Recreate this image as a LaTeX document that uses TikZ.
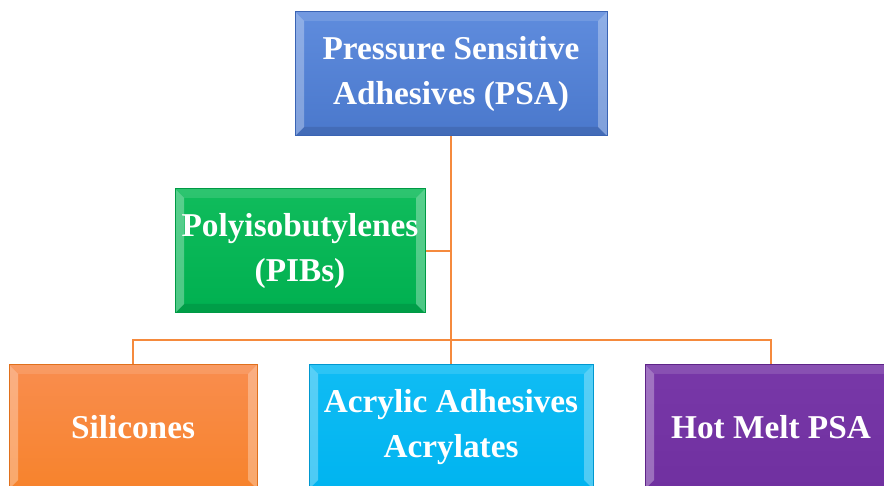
\documentclass[tikz,border=0pt]{standalone}
\usepackage{fontspec}
\setmainfont{Liberation Serif}
\usetikzlibrary{calc}
\definecolor{cblue}{HTML}{4A78CC}
\definecolor{cbluet}{HTML}{5F8CDD}
\definecolor{cblued}{HTML}{3A64B4}
\definecolor{cgreen}{HTML}{00B050}
\definecolor{cgreent}{HTML}{10BC5C}
\definecolor{cgreend}{HTML}{009A45}
\definecolor{corange}{HTML}{F7832C}
\definecolor{corangt}{HTML}{F98D4E}
\definecolor{corangd}{HTML}{E0701C}
\definecolor{ccyan}{HTML}{00B4F0}
\definecolor{ccyant}{HTML}{10BCF4}
\definecolor{ccyand}{HTML}{0098D0}
\definecolor{cpurp}{HTML}{7030A0}
\definecolor{cpurpt}{HTML}{7838A8}
\definecolor{cpurpd}{HTML}{5E2488}
\definecolor{cline}{HTML}{F58A3D}
\tikzset{
  botop/.store in=\botop, botop=.10,
  bev/.style={rectangle, inner sep=0pt, align=center, text=white,
    font=\bfseries\fontsize{33.3}{45}\selectfont,
    path picture={
      \coordinate (NW) at (path picture bounding box.north west);
      \coordinate (NE) at (path picture bounding box.north east);
      \coordinate (SW) at (path picture bounding box.south west);
      \coordinate (SE) at (path picture bounding box.south east);
      \fill[white,opacity=.12] (NW) -- (NE) -- ($(NE)+(-9pt,-9pt)$) -- ($(NW)+(9pt,-9pt)$) -- cycle;
      \fill[black,opacity=\botop] (SW) -- (SE) -- ($(SE)+(-9pt,9pt)$) -- ($(SW)+(9pt,9pt)$) -- cycle;
      \fill[white,opacity=.30] (NW) -- ($(NW)+(9pt,-9pt)$) -- ($(SW)+(9pt,9pt)$) -- (SW) -- cycle;
      \fill[white,opacity=.30] (NE) -- ($(NE)+(-9pt,-9pt)$) -- ($(SE)+(-9pt,9pt)$) -- (SE) -- cycle;
    }},
  conn/.style={draw=cline, line width=1.8pt}
}
\begin{document}
\begin{tikzpicture}[x=1pt,y=-1pt]
\useasboundingbox (0,0) rectangle (884,486);
\clip (0,0) rectangle (884,486);
\node[bev, minimum width=312pt, minimum height=124pt, top color=cbluet, bottom color=cblue, draw=cblued, line width=1pt] (top) at (451,74) {Pressure Sensitive\\Adhesives (PSA)};
\node[bev, minimum width=250pt, minimum height=124pt, top color=cgreent, bottom color=cgreen, draw=cgreend, line width=1pt] (pib) at (300,251) {Polyisobutylenes\\(PIBs)};
\node[bev, botop=0, minimum width=248pt, minimum height=124pt, top color=corangt, bottom color=corange, draw=corangd, line width=1pt] (sil) at (133,427) {Silicones};
\node[bev, botop=0, minimum width=284pt, minimum height=124pt, top color=ccyant, bottom color=ccyan, draw=ccyand, line width=1pt] (acr) at (451,427) {Acrylic Adhesives\\Acrylates};
\node[bev, botop=0, minimum width=252pt, minimum height=124pt, top color=cpurpt, bottom color=cpurp, draw=cpurpd, line width=1pt] (hm) at (771,427) {Hot Melt PSA};
\coordinate (bus) at (451,340);
\draw[conn] (top.south) -- (acr.north);
\draw[conn] (pib.east) -- (pib.east -| top.south);
\draw[conn] (sil.north) |- (bus) -| (hm.north);
\end{tikzpicture}
\end{document}
